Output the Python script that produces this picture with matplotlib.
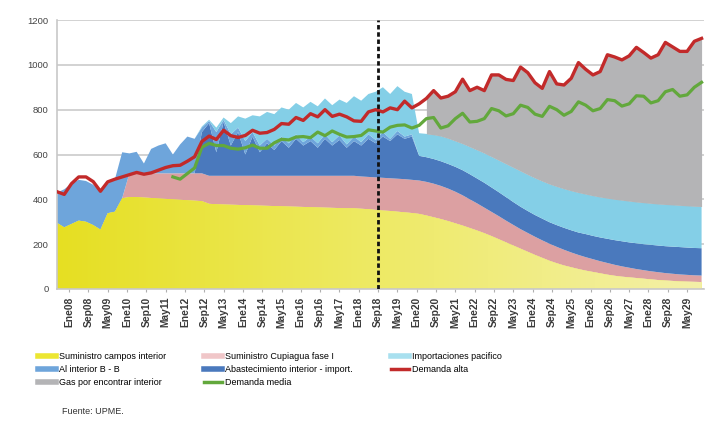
import numpy as np
import matplotlib
matplotlib.use("Agg")
import matplotlib.pyplot as plt
from matplotlib.lines import Line2D
from matplotlib.colors import LinearSegmentedColormap

plt.rcParams['font.family'] = ['Liberation Sans', 'DejaVu Sans']

# Monthly index (0 = Ago 2007), one sample per quarter
months = np.arange(0, 268, 3)

campos_interior = [
    295, 275, 290, 305, 300, 285, 265, 338, 345, 405,
    410, 410, 408, 406, 404, 402, 400, 398, 396, 394,
    392, 380, 378, 377, 376, 375, 374, 373, 372, 371,
    370, 369, 368, 367, 366, 365, 364, 363, 362, 361,
    360, 360, 358, 356, 353, 350, 348, 345, 342, 339,
    335, 328, 320, 312, 303, 293, 283, 272, 261, 249,
    236, 222, 208, 194, 180, 166, 152, 139, 126, 115,
    105, 97, 89, 82, 76, 70, 64, 59, 55, 52,
    49, 46, 43, 40, 38, 36, 34, 33, 32, 31]

cupiagua_fase1 = [
    0, 0, 0, 0, 0, 0, 0, 0, 0, 0,
    106, 106, 108, 110, 112, 114, 116, 118, 120, 122,
    124, 125, 127, 128, 129, 130, 131, 132, 133, 134,
    135, 136, 137, 138, 139, 140, 141, 142, 143, 144,
    145, 145, 144, 144, 145, 146, 146, 147, 148, 148,
    149, 150, 150, 148, 145, 141, 135, 128, 121, 114,
    108, 103, 97, 92, 87, 84, 81, 78, 76, 73,
    70, 66, 63, 60, 57, 54, 52, 49, 46, 43,
    40, 38, 36, 35, 33, 32, 31, 30, 29, 29]

abastecimiento_import = [
    0, 0, 0, 0, 0, 0, 0, 0, 0, 0,
    0, 0, 0, 0, 0, 0, 0, 0, 0, 0,
    184, 235, 105, 240, 135, 195, 95, 175, 105, 145,
    115, 155, 125, 165, 135, 155, 125, 165, 135, 160,
    125, 155, 138, 170, 152, 184, 166, 198, 180, 193,
    110, 110, 110, 110, 110, 111, 112, 112, 111, 111,
    109, 107, 105, 102, 100, 98, 97, 97, 96, 97,
    98, 99, 100, 103, 104, 106, 108, 110, 112, 113,
    115, 116, 118, 119, 120, 121, 122, 122, 122, 122]

al_interior_bb = [
    135, 170, 180, 182, 182, 180, 170, 132, 145, 205,
    89, 96, 44, 109, 124, 134, 84, 129, 164, 154,
    20, 10, 90, 10, 50, 20, 60, 20, 30, 20,
    20, 20, 20, 20, 15, 20, 20, 20, 15, 20,
    15, 20, 15, 20, 15, 20, 10, 15, 10, 10,
    0, 0, 0, 0, 0, 0, 0, 0, 0, 0,
    0, 0, 0, 0, 0, 0, 0, 0, 0, 0,
    0, 0, 0, 0, 0, 0, 0, 0, 0, 0,
    0, 0, 0, 0, 0, 0, 0, 0, 0, 0]

importaciones_pacifico = [
    0, 0, 0, 0, 0, 0, 0, 0, 0, 0,
    0, 0, 0, 0, 0, 0, 0, 0, 0, 0,
    5, 5, 20, 10, 50, 50, 100, 75, 130, 120,
    140, 130, 150, 140, 155, 155, 165, 160, 165, 160,
    185, 180, 185, 180, 215, 200, 200, 200, 200, 180,
    101, 104, 108, 112, 114, 115, 118, 122, 127, 132,
    137, 142, 148, 154, 159, 162, 165, 167, 170, 172,
    174, 176, 178, 178, 179, 180, 181, 182, 183, 184,
    184, 185, 185, 185, 186, 186, 186, 186, 186, 186]

demanda_alta = [
    434, 422, 470, 500, 500, 479, 436, 478, 490, 500,
    510, 520, 512, 518, 530, 542, 550, 552, 570, 590,
    658, 682, 667, 708, 684, 676, 685, 708, 695, 698,
    712, 738, 735, 765, 752, 782, 768, 800, 770, 780,
    768, 750, 748, 790, 800, 790, 808, 800, 838, 808,
    826, 850, 885, 852, 860, 880, 936, 885, 900, 885,
    955, 955, 935, 930, 990, 965, 920, 895, 970, 915,
    910, 940, 1010, 980, 955, 970, 1045, 1035, 1022, 1040,
    1078, 1055, 1030, 1045, 1100, 1080, 1060, 1060, 1105, 1118]

demanda_media = [np.nan] * 16 + [
    500, 490, 515, 540,
    632, 650, 640, 640, 628, 624, 630, 642, 628, 628,
    652, 668, 665, 678, 680, 675, 700, 684, 705, 690,
    678, 680, 685, 710, 705, 700, 722, 730, 732, 718,
    730, 760, 765, 718, 728, 760, 784, 745, 748, 760,
    805, 795, 772, 782, 820, 810, 780, 770, 815, 800,
    775, 792, 835, 820, 795, 805, 845, 840, 816, 826,
    862, 860, 830, 840, 880, 890, 860, 866, 900, 922]

tick_months = np.arange(5, 262, 8)
tick_labels = [
    'Ene08', 'Sep08', 'May09', 'Ene10', 'Sep10', 'May11', 'Ene12', 'Sep12',
    'May13', 'Ene14', 'Sep14', 'May15', 'Ene16', 'Sep16', 'May17', 'Ene18',
    'Sep18', 'May19', 'Ene20', 'Sep20', 'May21', 'Ene22', 'Sep22', 'May23',
    'Ene24', 'Sep24', 'May25', 'Ene26', 'Sep26', 'May27', 'Ene28', 'Sep28',
    'May29']

corte_mes = 133          # vertical dashed reference
inicio_por_encontrar = 153

c_yellow = '#ece632'
c_pink = '#dca0a2'
c_dblue = '#4a79bd'
c_blue = '#6ea5db'
c_cyan = '#84cfe7'
c_gray = '#b4b4b6'
c_red = '#c22a2a'
c_green = '#62a83c'

fig = plt.figure(figsize=(7.06, 4.33), dpi=100)
ax = fig.add_axes([57 / 706, 144 / 433, 647 / 706, 269 / 433])

m = months
polys = ax.stackplot(m, campos_interior, cupiagua_fase1, abastecimiento_import,
                     al_interior_bb, importaciones_pacifico,
                     colors=[c_yellow, c_pink, c_dblue, c_blue, c_cyan],
                     linewidth=0, zorder=2)

# yellow band fades toward the right
ycmap = LinearSegmentedColormap.from_list('amarillo', ['#e6df22', '#eeea66', '#f4f0a8'])
grad = np.linspace(0, 1, 256).reshape(1, -1)
img = ax.imshow(grad, extent=[0, 268, 0, 1200], aspect='auto', cmap=ycmap,
                zorder=2.1, interpolation='bicubic')
img.set_clip_path(polys[0].get_paths()[0], transform=ax.transData)

supply_top = (np.array(campos_interior) + np.array(cupiagua_fase1)
              + np.array(abastecimiento_import) + np.array(al_interior_bb)
              + np.array(importaciones_pacifico))
alta = np.array(demanda_alta, dtype=float)
ax.fill_between(m, supply_top, alta, where=(m >= inicio_por_encontrar) & (alta > supply_top),
                color=c_gray, linewidth=0, zorder=2)

ax.plot(m, demanda_media, color=c_green, lw=2.3, zorder=4, solid_joinstyle='round')
ax.plot(m, demanda_alta, color=c_red, lw=2.4, zorder=5, solid_joinstyle='round')

ax.axvline(corte_mes, color='#111111', lw=2.0, dashes=(1.6, 1.0), zorder=6)

ax.set_xlim(0, 268)
ax.set_ylim(0, 1200)
ax.set_yticks(np.arange(0, 1201, 200))
ax.yaxis.grid(True, color='#cfcfcf', lw=1.3, zorder=0)
ax.set_axisbelow(True)
for s in ['top', 'right']:
    ax.spines[s].set_visible(False)
ax.spines['left'].set_color('#c8c8c8')
ax.spines['left'].set_linewidth(1.2)
ax.spines['bottom'].set_color('#c8c8c8')
ax.spines['bottom'].set_linewidth(1.2)
ax.set_xticks(tick_months)
ax.set_xticklabels(tick_labels, rotation=90, fontsize=7.4, fontweight='bold', color='#3a3a3a')
ax.tick_params(axis='x', length=2.5, color='#b0b0b0', pad=3)
ax.tick_params(axis='y', length=0, labelsize=6.8, labelcolor='#444444', pad=6)

handles = [
    Line2D([], [], color=c_yellow, lw=4),
    Line2D([], [], color=c_blue, lw=4),
    Line2D([], [], color=c_gray, lw=4),
    Line2D([], [], color='#f0c6c8', lw=4),
    Line2D([], [], color=c_dblue, lw=4),
    Line2D([], [], color=c_green, lw=2.5),
    Line2D([], [], color='#a8e0ef', lw=4),
    Line2D([], [], color=c_red, lw=2.5),
]
labels = [
    'Suministro campos interior', 'Al interior B - B', 'Gas por encontrar interior',
    'Suministro Cupiagua fase I', 'Abastecimiento interior - import.', 'Demanda media',
    'Importaciones pacifico', 'Demanda alta',
]
fig.legend(handles, labels, ncol=3, loc='upper left', bbox_to_anchor=(38 / 706, 1 - 352 / 433),
           frameon=False, fontsize=6.5, handlelength=2.0, handletextpad=0.3,
           labelspacing=0.45, columnspacing=4.25, borderpad=0, borderaxespad=0)

fig.text(62 / 706, 1 - 412 / 433, 'Fuente: UPME.', fontsize=6.5, color='#333333', va='center')

fig.savefig('out.png', dpi=100)
